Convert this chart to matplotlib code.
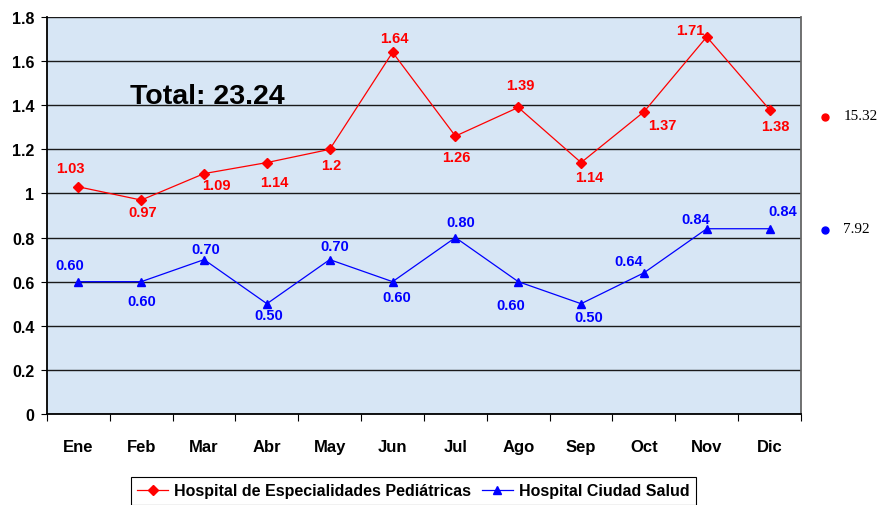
import matplotlib
matplotlib.use('Agg')
import matplotlib.pyplot as plt
from matplotlib.ticker import MultipleLocator, FixedLocator

plt.rcParams['font.family'] = ['Liberation Sans', 'DejaVu Sans']
plt.rcParams['font.weight'] = 'bold'

# datos
meses = ['Ene', 'Feb', 'Mar', 'Abr', 'May', 'Jun', 'Jul', 'Ago', 'Sep', 'Oct', 'Nov', 'Dic']
pediatricas = [1.03, 0.97, 1.09, 1.14, 1.2, 1.64, 1.26, 1.39, 1.14, 1.37, 1.71, 1.38]
ciudad_salud = [0.60, 0.60, 0.70, 0.50, 0.70, 0.60, 0.80, 0.60, 0.50, 0.64, 0.84, 0.84]
nombre_ped = 'Hospital de Especialidades Pediátricas'
nombre_cs = 'Hospital Ciudad Salud'

# posicion de etiquetas (pixeles, y hacia abajo)
ped_dx = [-8, 1, 12, 7, 2, 2, 1, 2, 8, 18, -16, 6]
ped_dy = [-19, 12, 11, 19, 16, -14, 21, -22, 14, 13, -7, 16]
cs_dx = [-9, 1, 2, 2, 5, 4, 5, -7, 8, -15, -11, 13]
cs_dy = [-17, 19, -11, 11, -14, 15, -16, 23, 13, -12, -10, -18]

RED = '#ff0000'
BLUE = '#0000ff'

fig = plt.figure(figsize=(8.78, 5.06), dpi=100)
fig.patch.set_facecolor('white')
ax = fig.add_axes([47/878, 1 - 415/506, 754/878, 397/506])
ax.set_facecolor('#d7e6f5')

x = list(range(len(meses)))
ax.plot(x, pediatricas, color=RED, lw=0.9, marker='D', ms=5, mec=RED, mfc=RED,
        label=nombre_ped, zorder=4)
ax.plot(x, ciudad_salud, color=BLUE, lw=0.9, marker='^', ms=6, mec=BLUE, mfc=BLUE,
        label=nombre_cs, zorder=4)

for i, v in enumerate(pediatricas):
    ax.annotate(f'{v:g}', (i, v), xytext=(ped_dx[i], -ped_dy[i]), textcoords='offset pixels',
                ha='center', va='center', color=RED, fontsize=10.5, fontweight='bold', zorder=5)
for i, v in enumerate(ciudad_salud):
    ax.annotate(f'{v:.2f}', (i, v), xytext=(cs_dx[i], -cs_dy[i]), textcoords='offset pixels',
                ha='center', va='center', color=BLUE, fontsize=10.5, fontweight='bold', zorder=5)

# ejes
ax.set_xlim(-0.5, len(meses) - 0.5)
ax.set_ylim(0, 1.8)
ax.yaxis.set_major_locator(MultipleLocator(0.2))
ax.set_yticklabels([f'{t:g}' for t in ax.get_yticks()])
ax.grid(axis='y', color='#1a1a1a', lw=1.0, zorder=1)
ax.set_axisbelow(True)

ax.set_xticks(x)
ax.set_xticklabels(meses, fontsize=12, fontweight='bold')
ax.xaxis.set_minor_locator(FixedLocator([i - 0.5 for i in range(len(meses) + 1)]))
ax.tick_params(axis='x', which='major', length=0, pad=18)
ax.tick_params(axis='x', which='minor', length=5, width=0.8, direction='out')
ax.tick_params(axis='y', length=4, width=0.8, direction='out', labelsize=11.5, pad=5)
for lab in ax.get_yticklabels():
    lab.set_fontweight('bold')

ax.spines['top'].set_visible(False)
ax.spines['left'].set_linewidth(1.3)
ax.spines['bottom'].set_linewidth(1.3)
ax.spines['right'].set_color('#666666')
ax.spines['right'].set_linewidth(1.3)

# total
total_ped = sum(pediatricas)
total_cs = sum(ciudad_salud)
ax.text(0.110, 0.801, f'Total: {total_ped + total_cs:.2f}', transform=ax.transAxes,
        fontsize=20.5, fontweight='bold', ha='left', va='center', color='black')

# totales a la derecha
ax.plot([1.032], [0.748], marker='o', ms=5, color=RED, transform=ax.transAxes, clip_on=False)
ax.plot([1.032], [0.4635], marker='o', ms=5, color=BLUE, transform=ax.transAxes, clip_on=False)
ax.text(1.056, 0.752, f'{total_ped:.2f}', transform=ax.transAxes, fontsize=11,
        family='Liberation Serif', fontweight='normal', ha='left', va='center')
ax.text(1.056, 0.468, f'{total_cs:.2f}', transform=ax.transAxes, fontsize=11,
        family='Liberation Serif', fontweight='normal', ha='left', va='center')

leg = fig.legend(loc='upper center', bbox_to_anchor=(0.471, 1 - 478/506), ncol=2,
                 frameon=True, fancybox=False, edgecolor='black', framealpha=1,
                 prop={'size': 11.5, 'weight': 'bold'}, handlelength=1.9,
                 handletextpad=0.4, columnspacing=0.7, borderpad=0.4, borderaxespad=0)
leg.get_frame().set_linewidth(0.8)

fig.savefig('out.png', dpi=100)
